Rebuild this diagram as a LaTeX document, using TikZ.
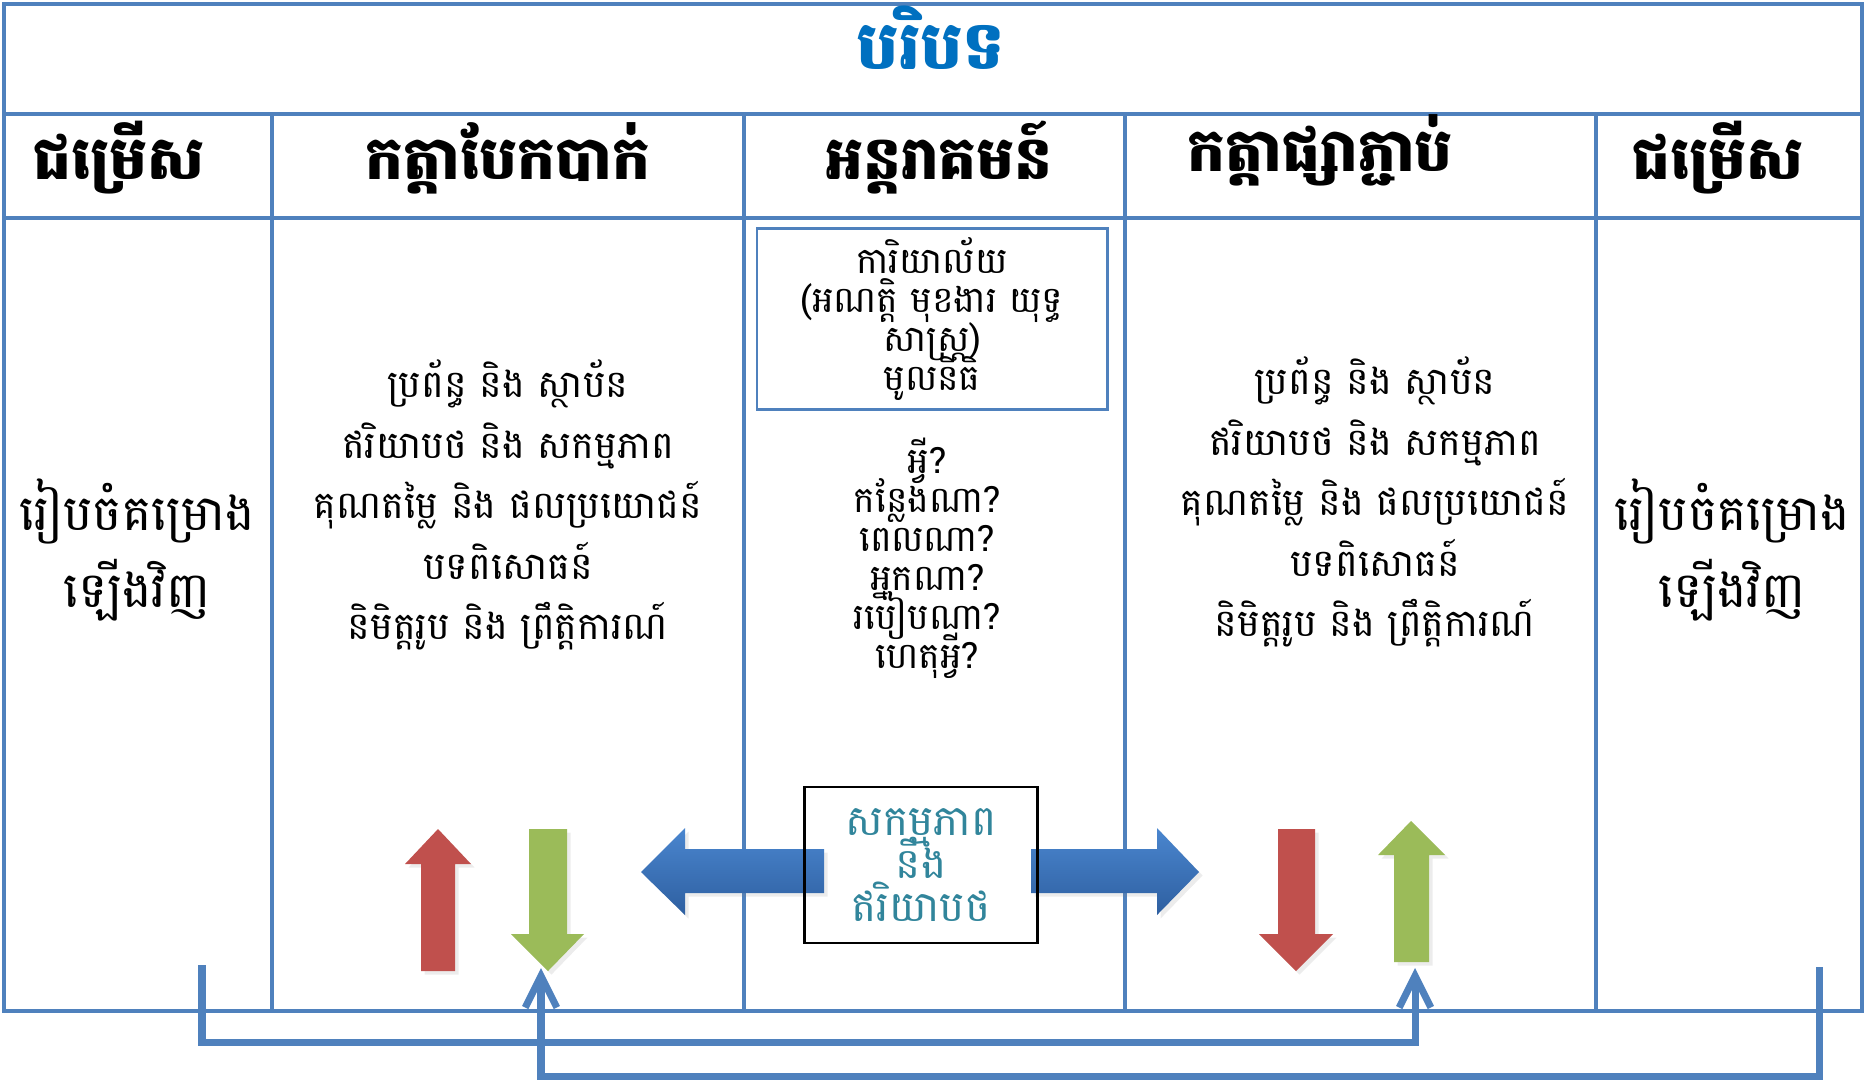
\documentclass[tikz,border=0pt]{standalone}
\usepackage{fontspec}
\usepackage{xcolor}
\usepackage{tikz}
\usetikzlibrary{arrows.meta,positioning,shadows}
\newfontfamily\khmerfont[Script=Khmer]{Battambang}
\definecolor{frameblue}{RGB}{79,129,189}
\definecolor{titleblue}{RGB}{0,112,192}
\definecolor{tealtext}{RGB}{49,133,155}
\definecolor{arrowred}{RGB}{192,80,77}
\definecolor{arrowgreen}{RGB}{155,187,89}
\definecolor{bluetop}{RGB}{74,134,207}
\definecolor{bluebottom}{RGB}{46,95,160}
\lineskiplimit=-100pt

\begin{document}
\begin{tikzpicture}[x=0.01cm, y=-0.01cm,
  frame/.style={draw=frameblue, line width=1pt},
  headtext/.style={font=\khmerfont\bfseries\fontsize{17}{20}\selectfont},
  titletext/.style={font=\khmerfont\bfseries\fontsize{19}{22}\selectfont, text=titleblue},
  listtext/.style={font=\khmerfont\fontsize{10.8}{17.2}\selectfont, align=center},
  sidetext/.style={font=\khmerfont\fontsize{14}{22}\selectfont, align=center},
  smalltext/.style={font=\khmerfont\fontsize{10.3}{11.1}\selectfont, align=center},
  officebox/.style={smalltext, draw=frameblue, line width=0.8pt, inner ysep=0pt,
    minimum width=3.5cm, minimum height=1.81cm},
  actionbox/.style={font=\khmerfont\fontsize{12}{12.2}\selectfont, align=center, text=tealtext,
    draw=black, line width=0.8pt, inner ysep=0pt, minimum width=2.33cm, minimum height=1.56cm},
  blockshadow/.style={drop shadow={shadow xshift=1pt, shadow yshift=-1pt, opacity=0.15}},
  redblock/.style={fill=arrowred, blockshadow},
  greenblock/.style={fill=arrowgreen, blockshadow},
  blueblock/.style={top color=bluetop, bottom color=bluebottom, blockshadow},
  loopline/.style={draw=frameblue, line width=2pt, -{Straight Barb[length=9pt, width=9pt]}}
]
\useasboundingbox (0,0) rectangle (1864,1084);

% Frame and columns
\draw[frame] (4,4) rectangle (1862,114);
\draw[frame] (4,114) rectangle (1862,1011);
\draw[frame] (4,218) -- (1862,218);
\foreach \cx in {272,744,1125,1596}
  \draw[frame] (\cx,114) -- (\cx,1011);

% Title and headers
\node[titletext] (title) at (931,38) {បរិបទ};
\node[headtext] (hoptleft) at (119,158) {ជម្រើស};
\node[headtext] (hdivide) at (508,158) {កត្តាបែកបាក់};
\node[headtext] (hinter) at (939,158) {អន្តរាគមន៍};
\node[headtext] (hconnect) at (1320,150) {កត្តាផ្សាភ្ជាប់};
\node[headtext] (hoptright) at (1718,158) {ជម្រើស};

% Side columns
\node[sidetext] (redoleft) at (137,550) {រៀបចំគម្រោង\\ឡើងវិញ};
\node[sidetext] (redoright) at (1732,550) {រៀបចំគម្រោង\\ឡើងវិញ};

% Dividers and connectors
\node[listtext] (dividers) at (508,505) {ប្រព័ន្ធ និង ស្ថាប័ន\\ឥរិយាបថ និង សកម្មភាព\\គុណតម្លៃ និង ផលប្រយោជន៍\\បទពិសោធន៍\\និមិត្តរូប និង ព្រឹត្តិការណ៍};
\node[listtext] (connectors) at (1375,502) {ប្រព័ន្ធ និង ស្ថាប័ន\\ឥរិយាបថ និង សកម្មភាព\\គុណតម្លៃ និង ផលប្រយោជន៍\\បទពិសោធន៍\\និមិត្តរូប និង ព្រឹត្តិការណ៍};

% Intervention
\node[officebox] (office) at (932,319) {ការិយាល័យ\\(អណត្តិ មុខងារ យុទ្ធ\\សាស្ត្រ)\\មូលនិធិ};
\node[smalltext] (questions) at (927,558) {អ្វី?\\កន្លែងណា?\\ពេលណា?\\អ្នកណា?\\របៀបណា?\\ហេតុអ្វី?};

% Block arrows
\fill[redblock] (421,971) -- (421,864) -- (405,864) -- (438,829) -- (471,864) -- (455,864) -- (455,971) -- cycle;
\fill[greenblock] (529,829) -- (529,934) -- (511,934) -- (548,971) -- (584,934) -- (567,934) -- (567,829) -- cycle;
\fill[redblock] (1278,829) -- (1278,934) -- (1259,934) -- (1296,971) -- (1333,934) -- (1315,934) -- (1315,829) -- cycle;
\fill[greenblock] (1394,962) -- (1394,855) -- (1378,855) -- (1411,821) -- (1445,855) -- (1429,855) -- (1429,962) -- cycle;
\shade[blueblock] (824,849) -- (685,849) -- (685,828) -- (641,872) -- (685,915) -- (685,893) -- (824,893) -- cycle;
\shade[blueblock] (1031,849) -- (1157,849) -- (1157,828) -- (1199,872) -- (1157,915) -- (1157,893) -- (1031,893) -- cycle;

\node[actionbox] (action) at (921,865) {សកម្មភាព\\នឹង\\ឥរិយាបថ};

% Feedback loops
\coordinate (loopastart) at (202,965);
\coordinate (loopatip) at (1415,968);
\coordinate (loopbstart) at (1819,967);
\coordinate (loopbtip) at (541,968);
\draw[loopline] (loopastart) -- ++(0,77) -| (loopatip);
\draw[loopline] (loopbstart) -- ++(0,109) -| (loopbtip);

\end{tikzpicture}
\end{document}
